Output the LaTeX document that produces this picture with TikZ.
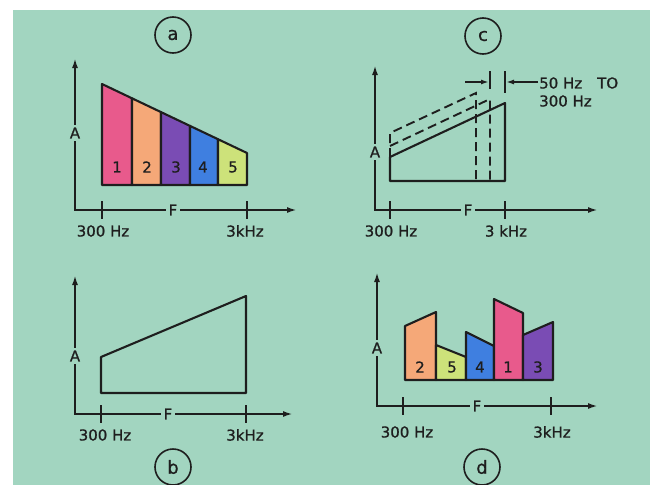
\documentclass[tikz,border=0pt]{standalone}
\usepackage{fontspec}
\setmainfont[FakeBold=0.8]{DejaVu Sans}
\usetikzlibrary{arrows.meta}
\definecolor{bg}{HTML}{A2D5C0}
\definecolor{ink}{HTML}{1E1E1E}
\definecolor{cpink}{HTML}{E85A8C}
\definecolor{corange}{HTML}{F5A878}
\definecolor{cpurple}{HTML}{7A4CB4}
\definecolor{cblue}{HTML}{3F7FE0}
\definecolor{cgreen}{HTML}{CDE27A}
\begin{document}
\begin{tikzpicture}[x=1pt,y=-1pt,
  ln/.style={line width=2.1pt, draw=ink, line join=round},
  axis/.style={line width=2.1pt, draw=ink, {Latex[length=10pt,width=6pt]}-{Latex[length=10pt,width=6pt]}},
  lbl/.style={font=\fontsize{15}{17}\selectfont, text=ink, inner sep=1pt},
  gap/.style={lbl, fill=bg, inner sep=3pt},
  circ/.style={circle, draw=ink, line width=1.6pt, minimum size=36pt, font=\fontsize{18}{19}\selectfont, text=ink, inner sep=0pt},
  tickmark/.style={line width=2.1pt, draw=ink},
  dsh/.style={line width=1.9pt, draw=ink, dash pattern=on 9pt off 5pt},
  dim/.style={line width=1.6pt, draw=ink, -{Latex[length=8pt,width=5pt]}}]

\useasboundingbox (0,0) rectangle (654,485);
\fill[white] (0,0) rectangle (654,485);
\fill[bg] (13,10) rectangle (650,485);

% ---------- panel a ----------
\node[circ] (ca) at (173,35) {a};
\filldraw[ln, fill=cpink]   (102,185) -- (102,84)    -- (132,98.3)  -- (132,185) -- cycle;
\filldraw[ln, fill=corange] (132,185) -- (132,98.3)  -- (161,112.1) -- (161,185) -- cycle;
\filldraw[ln, fill=cpurple] (161,185) -- (161,112.1) -- (190,125.9) -- (190,185) -- cycle;
\filldraw[ln, fill=cblue]   (190,185) -- (190,125.9) -- (218,139.2) -- (218,185) -- cycle;
\filldraw[ln, fill=cgreen]  (218,185) -- (218,139.2) -- (247,153)   -- (247,185) -- cycle;
\node[lbl] (a1) at (117,167) {1};
\node[lbl] (a2) at (147,167) {2};
\node[lbl] (a3) at (176,167) {3};
\node[lbl] (a4) at (203,167) {4};
\node[lbl] (a5) at (233,167) {5};
\draw[axis] (75,58) -- (75,210) -- (297,210);
\draw[tickmark] (102,201) -- (102,219);
\draw[tickmark] (247,201) -- (247,219);
\node[gap] (aA) at (75,133) {A};
\node[gap] (aF) at (173,210) {F};
\node[lbl] (a300) at (103,231) {300 Hz};
\node[lbl] (a3k) at (245,231) {3kHz};

% ---------- panel c ----------
\node[circ] (cc) at (483,36) {c};
\draw[dsh] (390,157) -- (390,133) -- (476,93) -- (476,181);
\draw[dsh] (390,146) -- (490,99) -- (490,181);
\draw[ln] (390,181) -- (390,157) -- (505,103) -- (505,181) -- cycle;
\draw[tickmark] (490,71) -- (490,89);
\draw[tickmark] (505,71) -- (505,93);
\coordinate (dl0) at (465,82);
\coordinate (dl1) at (489,82);
\coordinate (dr1) at (506,82);
\node[lbl, anchor=west] (dtxt1) at (538,83) {50 Hz\quad TO};
\node[lbl, anchor=west] (dtxt2) at (538,101) {300 Hz};
\draw[dim] (dl0) -- (dl1);
\draw[dim] (dtxt1.west |- dr1) -- (dr1);
\draw[axis] (375,65) -- (375,210) -- (598,210);
\draw[tickmark] (390,201) -- (390,219);
\draw[tickmark] (505,201) -- (505,219);
\node[gap] (cA) at (375,152) {A};
\node[gap] (cF) at (468,210) {F};
\node[lbl] (c300) at (391,231) {300 Hz};
\node[lbl] (c3k) at (506,231) {3 kHz};

% ---------- panel b ----------
\draw[ln] (101,393) -- (101,357) -- (246,296) -- (246,393) -- cycle;
\draw[axis] (75,275) -- (75,414) -- (293,414);
\draw[tickmark] (101,405) -- (101,423);
\draw[tickmark] (246,405) -- (246,423);
\node[gap] (bA) at (75,356) {A};
\node[gap] (bF) at (168,414) {F};
\node[lbl] (b300) at (105,435) {300 Hz};
\node[lbl] (b3k) at (245,435) {3kHz};
\node[circ] (cb) at (173,467) {b};

% ---------- panel d ----------
\filldraw[ln, fill=corange] (405,380) -- (405,326) -- (436,312) -- (436,380) -- cycle;
\filldraw[ln, fill=cgreen]  (436,380) -- (436,345) -- (466,357) -- (466,380) -- cycle;
\filldraw[ln, fill=cblue]   (466,380) -- (466,332) -- (494,346) -- (494,380) -- cycle;
\filldraw[ln, fill=cpink]   (494,380) -- (494,299) -- (523,313) -- (523,380) -- cycle;
\filldraw[ln, fill=cpurple] (523,380) -- (523,335) -- (553,322) -- (553,380) -- cycle;
\node[lbl] (d2) at (420,367) {2};
\node[lbl] (d5) at (452,367) {5};
\node[lbl] (d4) at (480,367) {4};
\node[lbl] (d1) at (508,367) {1};
\node[lbl] (d3) at (538,367) {3};
\draw[axis] (377,272) -- (377,406) -- (598,406);
\draw[tickmark] (403,397) -- (403,415);
\draw[tickmark] (551,397) -- (551,415);
\node[gap] (dA) at (377,348) {A};
\node[gap] (dF) at (477,406) {F};
\node[lbl] (d300) at (407,432) {300 Hz};
\node[lbl] (d3k) at (552,432) {3kHz};
\node[circ] (cd) at (482,467) {d};
\end{tikzpicture}
\end{document}
